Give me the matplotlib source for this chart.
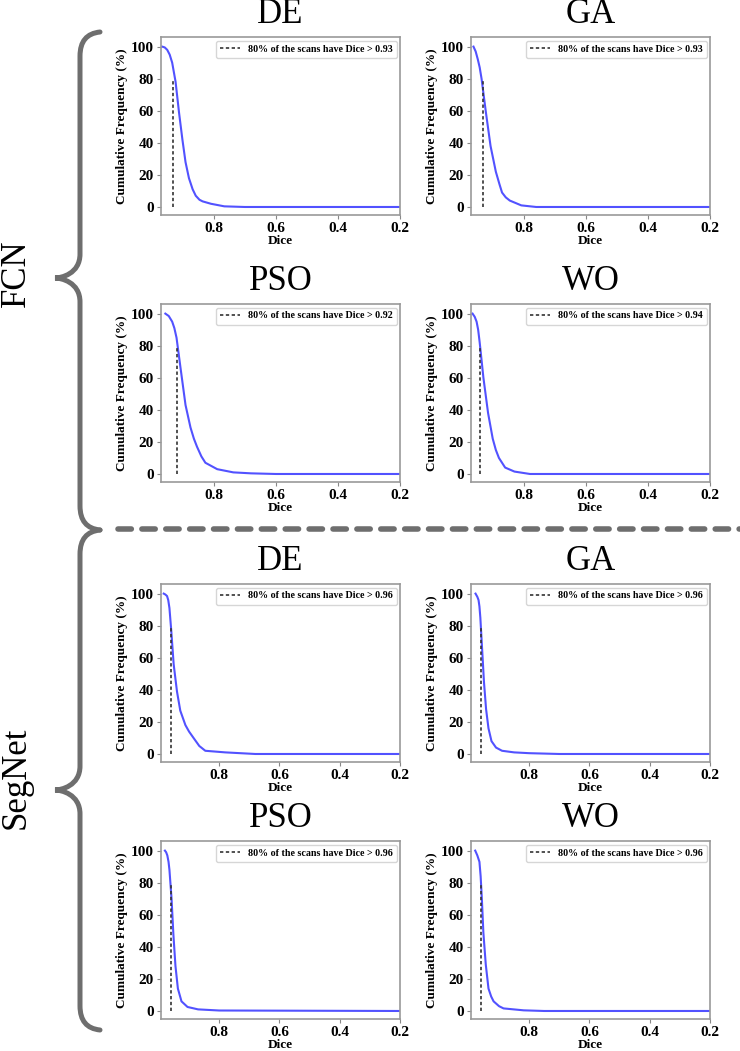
import matplotlib
matplotlib.use('Agg')
import matplotlib.pyplot as plt
from matplotlib.path import Path
from matplotlib.patches import PathPatch
from matplotlib.lines import Line2D

plt.rcParams['font.family'] = ['Liberation Serif', 'DejaVu Serif']

W, H = 740, 1051

# ---- data ----
groups = ['FCN', 'SegNet']
optimisers = ['DE', 'GA', 'PSO', 'WO']

# 80 % threshold shown in each legend
fcn_thr = [0.93, 0.93, 0.92, 0.94]
seg_thr = [0.96, 0.96, 0.96, 0.96]

# cumulative frequency curves (Dice value, % of scans)
fcn_de_x = [0.966, 0.958, 0.95, 0.942, 0.934, 0.923, 0.912, 0.901, 0.891, 0.88, 0.868, 0.858, 0.846, 0.836, 0.809, 0.766, 0.7, 0.2]
fcn_de_y = [100, 99.5, 98, 95, 90, 78, 59, 42, 28, 18, 11, 7, 4.5, 3.5, 2, 0.4, 0, 0]
fcn_ga_x = [0.962, 0.955, 0.948, 0.942, 0.936, 0.922, 0.907, 0.89, 0.878, 0.87, 0.858, 0.845, 0.808, 0.76, 0.2]
fcn_ga_y = [100, 97, 92, 87, 80, 59, 38, 22, 14, 9, 6, 4, 1, 0, 0]
fcn_pso_x = [0.956, 0.945, 0.934, 0.927, 0.92, 0.907, 0.891, 0.875, 0.864, 0.854, 0.84, 0.827, 0.789, 0.737, 0.68, 0.6, 0.2]
fcn_pso_y = [100, 98.5, 95, 91, 85, 66, 43, 29, 22, 17, 11, 7, 3, 1, 0.4, 0, 0]
fcn_wo_x = [0.965, 0.958, 0.952, 0.947, 0.942, 0.93, 0.915, 0.9, 0.89, 0.88, 0.86, 0.83, 0.78, 0.2]
fcn_wo_y = [100, 98, 95, 90, 82, 60, 38, 22, 15, 10, 4, 1.5, 0, 0]

seg_de_x = [0.984, 0.979, 0.973, 0.969, 0.965, 0.959, 0.951, 0.94, 0.929, 0.912, 0.9, 0.885, 0.866, 0.846, 0.78, 0.68, 0.2]
seg_de_y = [100, 99.5, 98.5, 96, 91, 77, 56, 39, 27, 18, 14, 10, 5, 2, 1, 0, 0]
seg_ga_x = [0.978, 0.972, 0.968, 0.965, 0.962, 0.956, 0.95, 0.943, 0.935, 0.925, 0.91, 0.89, 0.85, 0.8, 0.7, 0.2]
seg_ga_y = [100, 98, 96, 92, 85, 65, 45, 28, 16, 8, 4, 2, 1, 0.5, 0, 0]
seg_pso_x = [0.98, 0.976, 0.972, 0.968, 0.965, 0.958, 0.952, 0.945, 0.937, 0.925, 0.905, 0.87, 0.8, 0.2]
seg_pso_y = [100, 99, 97, 93, 88, 70, 48, 28, 14, 6, 2.5, 1, 0.3, 0]
seg_wo_x = [0.979, 0.972, 0.965, 0.961, 0.957, 0.952, 0.944, 0.935, 0.926, 0.918, 0.9, 0.885, 0.818, 0.75, 0.2]
seg_wo_y = [100, 97, 93, 84, 70, 49, 29, 14, 9, 6, 3, 1.6, 0.4, 0, 0]

fcn_curves = [(fcn_de_x, fcn_de_y), (fcn_ga_x, fcn_ga_y), (fcn_pso_x, fcn_pso_y), (fcn_wo_x, fcn_wo_y)]
seg_curves = [(seg_de_x, seg_de_y), (seg_ga_x, seg_ga_y), (seg_pso_x, seg_pso_y), (seg_wo_x, seg_wo_y)]

x_ticks = [0.8, 0.6, 0.4, 0.2]
y_ticks = [0, 20, 40, 60, 80, 100]

fig = plt.figure(figsize=(W / 100, H / 100), dpi=100)

# axes boxes in pixels: left, top, right, bottom
cols = [(161, 400), (471, 710)]
rows = [(37, 215), (304, 482), (584, 762), (841, 1019)]


def box(c, r):
    x0, x1 = cols[c]
    y0, y1 = rows[r]
    return [x0 / W, 1 - y1 / H, (x1 - x0) / W, (y1 - y0) / H]


def panel(ax, xs, ys, thr, title, xleft):
    ax.plot(xs, ys, color='#5252ff', lw=1.5)
    ax.vlines(thr, 0, 80, colors='#333333', linestyles=(0, (2, 1.5)), lw=1.2)
    ax.set_xlim(xleft, 0.2)
    ax.set_ylim(-5, 106)
    ax.set_xticks(x_ticks)
    ax.set_yticks(y_ticks)
    for lab in ax.get_xticklabels() + ax.get_yticklabels():
        lab.set_fontweight('bold')
        lab.set_fontsize(11)
    ax.tick_params(length=3, color='#888888', pad=2)
    for s in ax.spines.values():
        s.set_color('#999999')
        s.set_linewidth(1.2)
    ax.set_xlabel('Dice', fontsize=9.5, fontweight='bold', labelpad=0)
    ax.set_ylabel('Cumulative Frequency (%)', fontsize=9.5, fontweight='bold', labelpad=2)
    ax.set_title(title, fontsize=25, pad=10)
    h = Line2D([], [], color='#333333', ls=(0, (2, 1.5)), lw=1.2)
    ax.legend([h], ['80%% of the scans have Dice > %.2f' % thr], loc='upper right',
              prop={'size': 7.2, 'weight': 'bold'}, handlelength=2.0,
              borderaxespad=0.35, edgecolor='#cccccc')


for g, (curves, thrs, xleft) in enumerate([(fcn_curves, fcn_thr, 0.97), (seg_curves, seg_thr, 0.993)]):
    for i, name in enumerate(optimisers):
        ax = fig.add_axes(box(i % 2, 2 * g + i // 2))
        panel(ax, curves[i][0], curves[i][1], thrs[i], name, xleft)


# braces and separator drawn in figure pixels
def fp(x, y):
    return (x / W, 1 - y / H)


def brace(top, bottom, cusp_y):
    xe, xv, xc = 100, 80, 55
    r = 24
    verts = [fp(xe, top), fp(xv, top + 2), fp(xv, top + r),
             fp(xv, cusp_y - r),
             fp(xv, cusp_y - 4), fp(xc + 6, cusp_y), fp(xc, cusp_y),
             fp(xc + 6, cusp_y), fp(xv, cusp_y + 4), fp(xv, cusp_y + r),
             fp(xv, bottom - r),
             fp(xv, bottom - 2), fp(xe, bottom)]
    codes = [Path.MOVETO, Path.CURVE3, Path.CURVE3,
             Path.LINETO,
             Path.CURVE4, Path.CURVE4, Path.CURVE4,
             Path.CURVE4, Path.CURVE4, Path.CURVE4,
             Path.LINETO,
             Path.CURVE3, Path.CURVE3]
    fig.add_artist(PathPatch(Path(verts, codes), transform=fig.transFigure,
                             fill=False, ec='#6e6e6e', lw=3.6, capstyle='round'))


brace(32, 530, 278)
brace(530, 1030, 790)

fig.text(16 / W, 1 - 273 / H, groups[0], rotation=90, fontsize=25, ha='center', va='center')
fig.text(16 / W, 1 - 778 / H, groups[1], rotation=90, fontsize=25, ha='center', va='center')

fig.add_artist(Line2D([118 / W, 1.0], [1 - 529 / H, 1 - 529 / H], transform=fig.transFigure,
                      color='#6e6e6e', lw=4, ls=(0, (2.4, 1.9)), dash_capstyle='round'))

fig.savefig('out.png', dpi=100)
